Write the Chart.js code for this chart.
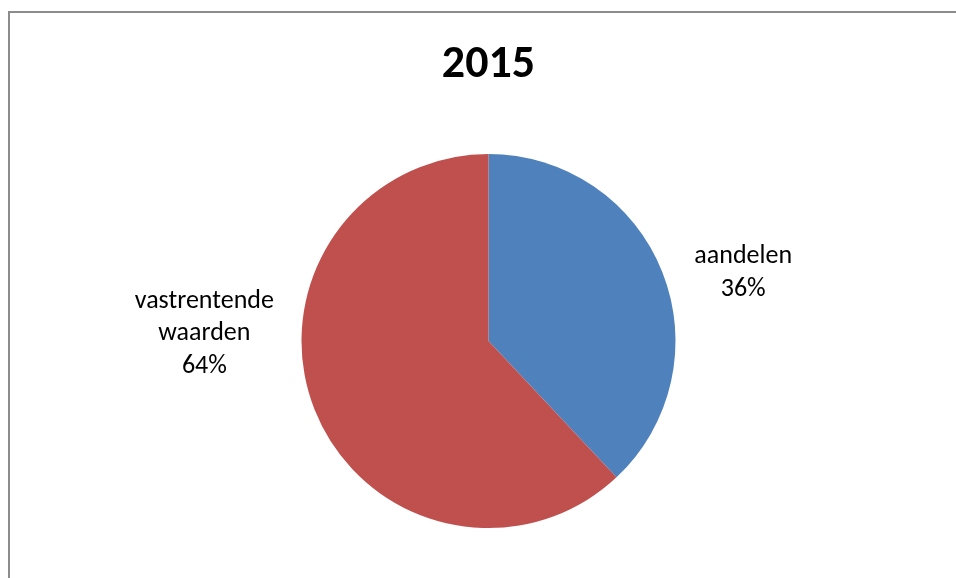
<!DOCTYPE html>
<html>
<head>
<meta charset="utf-8">
<script src="https://cdn.jsdelivr.net/npm/chart.js@4"></script>
<style>
  html, body { margin: 0; padding: 0; background: #fff; overflow: hidden; }
  #frame {
    position: absolute; left: 8px; top: 11px;
    width: 980px; height: 600px;
    border: 2px solid #8c8c8c;
  }
  #wrap { position: absolute; left: 0; top: 0; width: 956px; height: 578px; }
</style>
</head>
<body>
<div id="frame"></div>
<div id="wrap"><canvas id="pie"></canvas></div>
<script>
// Data
const categories = ["aandelen", "vastrentende waarden"];
const shares = [38, 62]; // slice sizes as drawn
const shareLabels = ["36%", "64%"]; // percentage text shown in the chart
const colors = ["#4F81BD", "#C0504D"];

// label lines and placement (angle in degrees from centre, distance in radii)
const labelLines = [["aandelen"], ["vastrentende", "waarden"]];
const labelPlace = [
    { angle: -15, dist: 1.41 },
    { angle: 181.5, dist: 1.52 },
];

const FONT = "Calibri, Carlito, Lato, sans-serif";

// Outside labels drawn from each arc's geometry
const outsideLabels = {
    id: "outsideLabels",
    afterDatasetsDraw(chart) {
        const c = chart.ctx;
        const meta = chart.getDatasetMeta(0);
        c.save();
        c.font = "26px " + FONT;
        c.fillStyle = "#000";
        c.textAlign = "center";
        c.textBaseline = "middle";
        meta.data.forEach((arc, i) => {
            const p = labelPlace[i];
            const a = (p.angle * Math.PI) / 180;
            const x = arc.x + Math.cos(a) * arc.outerRadius * p.dist;
            const y = arc.y + Math.sin(a) * arc.outerRadius * p.dist;
            const lines = labelLines[i].concat([shareLabels[i]]);
            const lh = 32.5;
            const top = y - ((lines.length - 1) * lh) / 2;
            lines.forEach((t, k) => c.fillText(t, x, top + k * lh));
        });
        c.restore();
    },
};

new Chart(document.getElementById("pie"), {
    type: "pie",
    data: {
        labels: categories,
        datasets: [
            {
                data: shares,
                backgroundColor: colors,
                borderWidth: 0,
            },
        ],
    },
    options: {
        responsive: true,
        maintainAspectRatio: false,
        animation: false,
        layout: { padding: { left: 21, right: 0, top: 0, bottom: 50 } },
        plugins: {
            legend: { display: false },
            tooltip: { enabled: false },
            title: {
                display: true,
                text: "2015",
                color: "#000",
                font: { family: FONT, size: 46, weight: "bold" },
                padding: { top: 38, bottom: 60.8 },
            },
        },
    },
    plugins: [outsideLabels],
});
</script>
</body>
</html>
